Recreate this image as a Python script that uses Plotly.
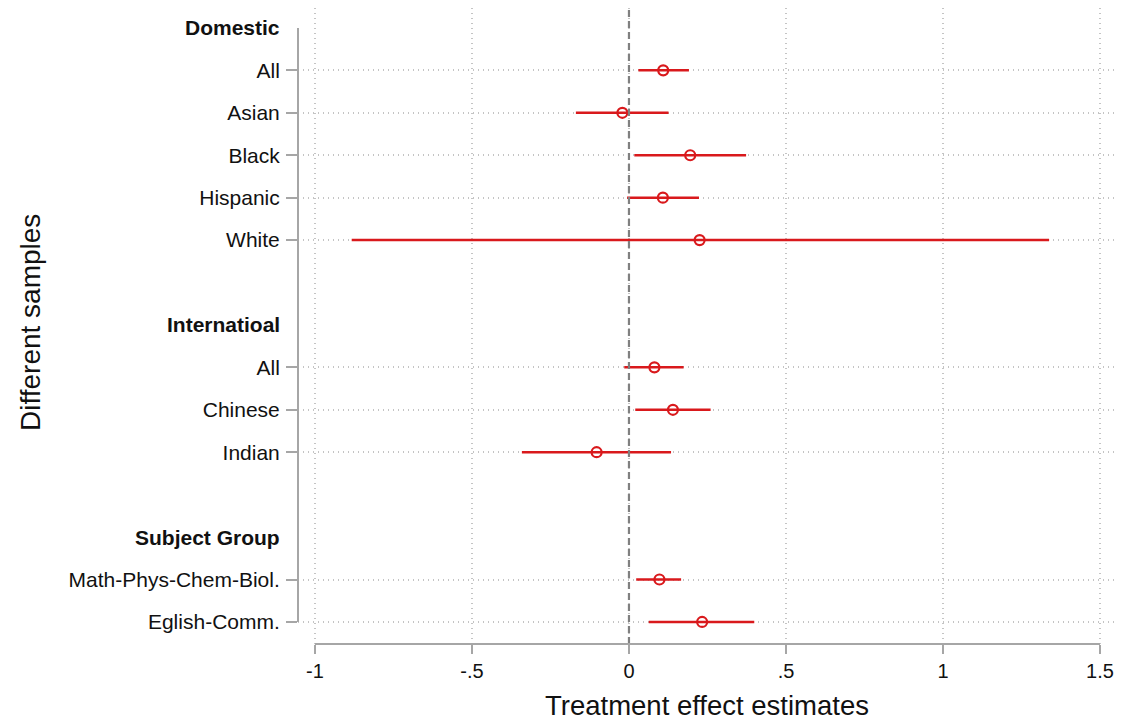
import plotly.graph_objects as go

# Rows from top to bottom ("" = blank spacer row)
row_labels = ["Domestic", "All", "Asian", "Black", "Hispanic", "White", "",
              "Internatioal", "All", "Chinese", "Indian", "",
              "Subject Group", "Math-Phys-Chem-Biol.", "Eglish-Comm."]
header_labels = ["Domestic", "Internatioal", "Subject Group"]

# Data rows (top to bottom)
sample_labels = ["All", "Asian", "Black", "Hispanic", "White",
                 "All", "Chinese", "Indian",
                 "Math-Phys-Chem-Biol.", "Eglish-Comm."]
sample_rows = [1, 2, 3, 4, 5, 8, 9, 10, 13, 14]
estimates = [0.109, -0.021, 0.195, 0.108, 0.225, 0.081, 0.140, -0.103, 0.097, 0.233]
ci_low = [0.030, -0.169, 0.017, -0.006, -0.883, -0.015, 0.020, -0.341, 0.023, 0.063]
ci_high = [0.191, 0.126, 0.373, 0.223, 1.338, 0.174, 0.260, 0.134, 0.166, 0.399]

x_tickvals = [-1, -0.5, 0, 0.5, 1, 1.5]
x_ticktext = ["-1", "-.5", "0", ".5", "1", "1.5"]

header_rows = [row_labels.index(h) for h in header_labels]

RED = "#d9191c"
GRID = "#c4c4c4"
AXIS = "#a6a6a6"
FONT = "Liberation Sans, Arial, sans-serif"
TXT = "#111111"

fig = go.Figure()
fig.add_trace(go.Scatter(
    x=estimates, y=sample_rows, mode="markers",
    marker=dict(symbol="circle-open", size=10, color=RED, line=dict(width=2.2, color=RED)),
    error_x=dict(type="data", symmetric=False,
                 array=[h - e for h, e in zip(ci_high, estimates)],
                 arrayminus=[e - l for e, l in zip(estimates, ci_low)],
                 color=RED, thickness=2.5, width=0),
    showlegend=False, hoverinfo="x+y",
))

# reference line at zero
fig.add_shape(type="line", xref="x", yref="paper", x0=0, x1=0, y0=0, y1=1,
              line=dict(color="#808080", width=2.2, dash="7px,4px"), layer="above")
# axis lines (Stata style, only over the data range)
fig.add_shape(type="line", xref="x", yref="paper", x0=-1, x1=1.5, y0=0, y1=0,
              line=dict(color=AXIS, width=2))
fig.add_shape(type="line", xref="paper", yref="y", x0=0, x1=0,
              y0=0, y1=len(row_labels) - 1,
              line=dict(color=AXIS, width=2))

for r, h in zip(header_rows, header_labels):
    fig.add_annotation(x=0, xref="paper", y=r, yref="y", text="<b>%s</b>" % h,
                       showarrow=False, xanchor="right", xshift=-16,
                       font=dict(family=FONT, size=21, color=TXT))

fig.add_annotation(x=0, xref="paper", y=0.5, yref="paper", text="Different samples",
                   textangle=-90, showarrow=False, xanchor="center", yanchor="middle",
                   xshift=-268, yshift=3, font=dict(family=FONT, size=28, color=TXT))

fig.update_layout(
    width=1124, height=727,
    margin=dict(l=298, r=8, t=8, b=83),
    plot_bgcolor="white", paper_bgcolor="white",
    font=dict(family=FONT, size=21, color=TXT),
    xaxis=dict(range=[-1.054, 1.551], tickvals=x_tickvals, ticktext=x_ticktext,
               automargin=False,
               showgrid=True, gridcolor=GRID, griddash="1px,4px", gridwidth=1.5,
               zeroline=False, showline=False,
               ticks="outside", ticklen=9, tickwidth=2, tickcolor=AXIS,
               tickfont=dict(size=20),
               title=dict(text="Treatment effect estimates", font=dict(size=27.5), standoff=14)),
    yaxis=dict(range=[14.52, -0.47], tickvals=sample_rows, ticktext=sample_labels,
               automargin=False,
               showgrid=True, gridcolor=GRID, griddash="1px,4px", gridwidth=1.5,
               zeroline=False, showline=False,
               ticks="outside", ticklen=11, tickwidth=2, tickcolor=AXIS,
               ticklabelstandoff=2,
               tickfont=dict(size=21)),
)

fig.write_html("out.html", config={"displayModeBar": False},
               post_script="document.body.style.margin='0';document.body.style.overflow='hidden';")
